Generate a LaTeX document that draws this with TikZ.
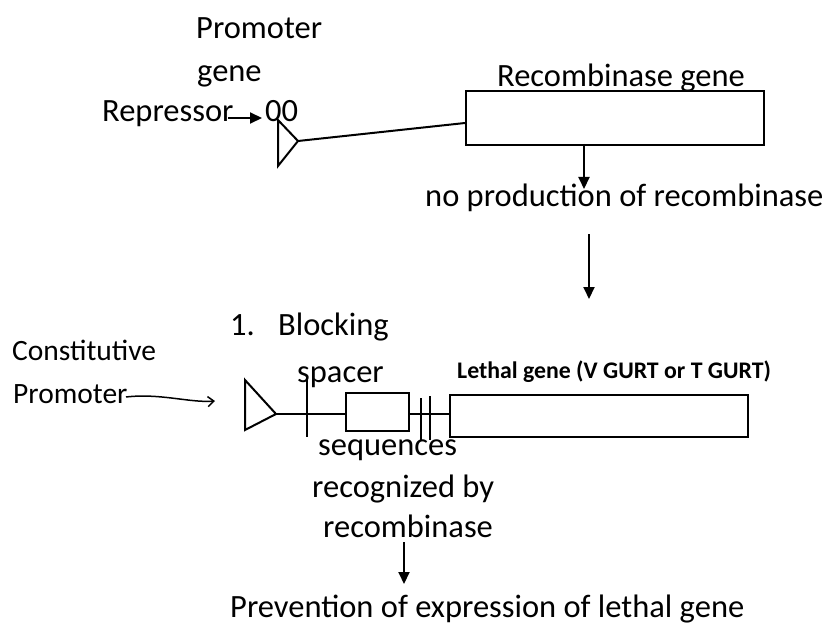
\documentclass[tikz,border=0pt]{standalone}
\usepackage{fontspec}
\setmainfont{Carlito}
\usetikzlibrary{arrows.meta}
\tikzset{
  lbl/.style={inner sep=0pt, anchor=base west, font=\fontsize{32.5}{36}\selectfont},
  lbls/.style={inner sep=0pt, anchor=base west, font=\fontsize{29.5}{33}\selectfont},
  lblb/.style={inner sep=0pt, anchor=base west, font=\fontsize{23.8}{26}\selectfont\bfseries},
  gene/.style={draw, line width=2pt},
  ln/.style={line width=2pt},
  farrow/.style={line width=2pt, -{Triangle[length=12pt,width=11pt]}},
  oarrow/.style={line width=1.5pt, -{Straight Barb[length=6pt,width=10pt]}},
}
\begin{document}
\begin{tikzpicture}[x=1pt,y=-1pt]
\useasboundingbox (0,0) rectangle (826,628);
% top construct
\node[lbl] (prom) at (196,39) {Promoter};
\node[lbl] (gn) at (197,82) {gene};
\node[lbl] (rep) at (102,122) {Repressor};
\node[lbl] (oo) at (265,122) {00};
\coordinate (ra) at (228,118);
\coordinate (rb) at (262,118);
\draw[farrow] (ra) -- (rb);
\draw[gene, line join=miter] (278,120) coordinate (t1a) -- (298,141) coordinate (t1tip) -- (278,166) -- cycle;
\node[gene, minimum width=298pt, minimum height=54pt, inner sep=0pt, anchor=north west] (rbox) at (465,90) {};
\draw[ln] (t1tip) -- (rbox.west |- 0,123);
\node[lbl] (rgene) at (497,87) {Recombinase gene};
\coordinate (a1s) at (584,144);
\draw[farrow] (a1s) -- (584,189) coordinate (a1e);
\node[lbl] (noprod) at (425,207) {no production of recombinase};
\coordinate (a2s) at (589,234);
\draw[farrow] (a2s) -- (589,299) coordinate (a2e);
% bottom construct
\node[lbl] (one) at (230,335) {1.};
\node[lbl] (block) at (278,335) {Blocking};
\node[lbl] (spacer) at (297,382) {spacer};
\node[lbls] (const) at (12,360) {Constitutive};
\node[lbls] (cprom) at (13,403) {Promoter};
\coordinate (ca) at (126,397);
\coordinate (cb) at (215,401);
\draw[oarrow] (ca) .. controls (160,393) and (190,403) .. (cb);
\draw[gene, line join=miter] (245,380) -- (276,414) coordinate (t2tip) -- (245,430) -- cycle;
\node[gene, minimum width=63pt, minimum height=38pt, inner sep=0pt, anchor=north west] (sbox) at (345,392) {};
\node[gene, minimum width=298pt, minimum height=42pt, inner sep=0pt, anchor=north west] (lbox) at (449,394) {};
\draw[ln] (t2tip) -- (sbox.west |- 0,414);
\draw[ln] (sbox.east |- 0,414) -- (lbox.west |- 0,414);
\draw[ln] (307,380) -- (307,437);
\draw[ln] (421,398) -- (421,440);
\draw[ln] (430,396) -- (430,440);
\node[lblb] (leth) at (457,378) {Lethal gene (V GURT or T GURT)};
\node[lbl] (seq) at (318,455) {sequences};
\node[lbl] (recog) at (312,497) {recognized by};
\node[lbl] (recomb) at (323,537) {recombinase};
\coordinate (a3s) at (404,542);
\draw[farrow] (a3s) -- (404,584) coordinate (a3e);
\node[lbl] (prev) at (230,617) {Prevention of expression of lethal gene};
\end{tikzpicture}
\end{document}
